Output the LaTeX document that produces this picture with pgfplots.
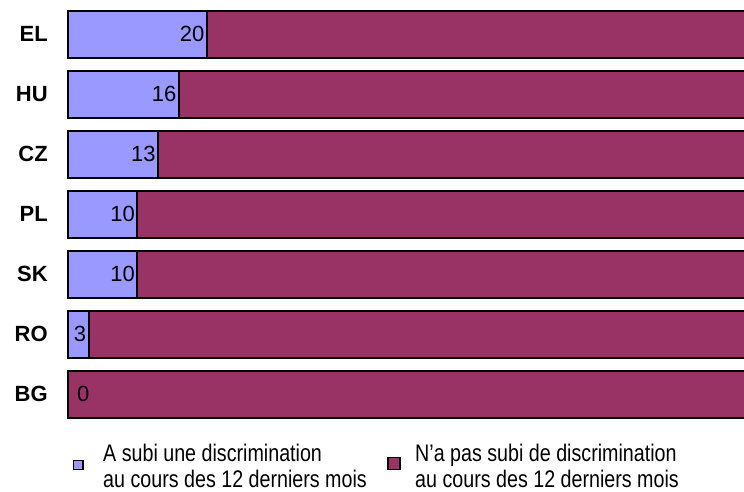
\documentclass[border=0pt]{standalone}
\usepackage{fontspec}
\setmainfont{Liberation Sans}
\newfontfamily\narrowfont[FakeStretch=0.82]{Liberation Sans}
\usepackage{pgfplots}
\usepackage{pgfplotstable}
\pgfplotsset{compat=1.18}
\definecolor{cblue}{HTML}{9999FF}
\definecolor{cmaroon}{HTML}{993366}
\pgfplotstableread{
y a b lab
6 20 80 20
5 16 84 16
4 13 87 13
3 10 90 10
2 10 90 10
1 3 97 3
0 0 100 {}
}\datatable
\pgfplotsset{myframe/.style={
  at={(65.9pt,67pt)}, anchor=south west,
  scale only axis, width=678.1pt, height=420pt,
  xmin=-0.3, xmax=97.3, ymin=-0.5, ymax=6.5}}
\begin{document}
\begin{tikzpicture}
\useasboundingbox (0,0) rectangle (744pt,491pt);
\begin{axis}[
  myframe,
  xbar stacked, bar width=47pt,
  axis line style={draw=none},
  xtick=\empty,
  ytick={0,...,6},
  yticklabels={BG,RO,SK,PL,CZ,HU,EL},
  major tick length=0pt,
  yticklabel style={font=\bfseries\fontsize{22}{22}\selectfont, inner sep=0pt, xshift=-18pt},
]
\addplot[fill=cblue, draw=black, line width=2pt] table[x=a, y=y] {\datatable};
\addplot[fill=cmaroon, draw=black, line width=2pt] table[x=b, y=y] {\datatable};
\end{axis}
\begin{axis}[
  myframe, hide axis,
]
\addplot[only marks, mark=*, mark size=0.01pt, mark options={draw opacity=0, fill opacity=0},
  point meta=explicit symbolic,
  nodes near coords,
  nodes near coords style={anchor=east, inner sep=2.5pt, font=\fontsize{22}{22}\selectfont, text=black, opacity=1}
] table[x=a, y=y, meta=lab] {\datatable};
\node[anchor=west, inner sep=0pt, font=\fontsize{22}{22}\selectfont] at (axis cs:0,0) [xshift=9pt] {0};
\end{axis}
\draw[fill=cblue, line width=1.3pt] (73.5pt,21.5pt) rectangle (83pt,30.5pt);
\draw[fill=cmaroon, line width=1.3pt] (388pt,21.5pt) rectangle (400pt,33.5pt);
\begin{scope}[every node/.style={anchor=base west, inner sep=0pt, font=\narrowfont\fontsize{24}{24}\selectfont}]
\node at (103pt,30pt) {A subi une discrimination};
\node at (103pt,4pt) {au cours des 12 derniers mois};
\node at (415pt,30pt) {N’a pas subi de discrimination};
\node at (415pt,4pt) {au cours des 12 derniers mois};
\end{scope}
\end{tikzpicture}
\end{document}
